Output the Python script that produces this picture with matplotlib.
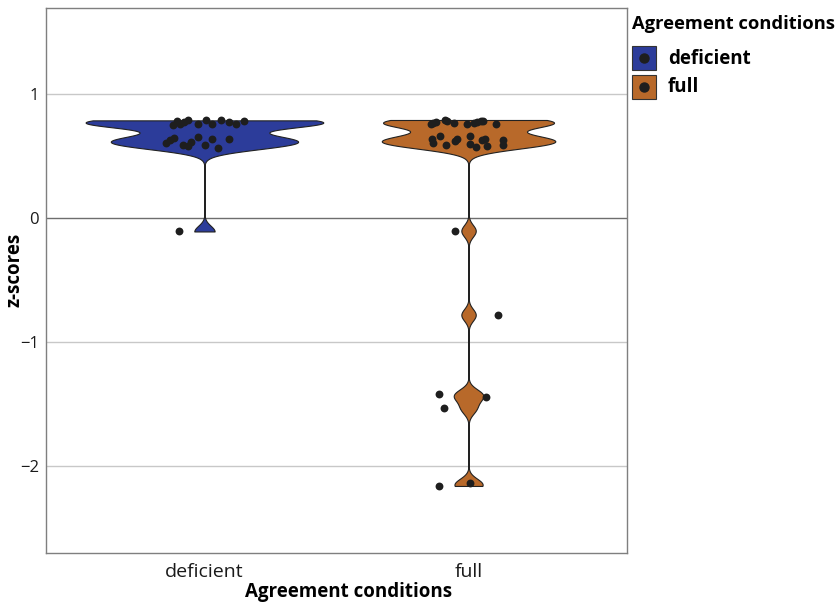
import numpy as np
import matplotlib
matplotlib.use("Agg")
import matplotlib.pyplot as plt
from matplotlib.patches import Rectangle
from matplotlib.lines import Line2D

plt.rcParams['font.family'] = ['Open Sans', 'DejaVu Sans']

# data: z-scores per condition, and horizontal jitter of each dot
conditions = ["deficient", "full"]
colors = ["#2C3C9A", "#B8692A"]

deficient_z = [0.750, 0.777, 0.758, 0.769, 0.785, 0.756, 0.785, 0.758, 0.785, 0.772, 0.756, 0.777,
               0.602, 0.629, 0.643, 0.589, 0.575, 0.607, 0.651, 0.583, 0.637, 0.562, 0.635,
               -0.110]
deficient_dx = [-0.120, -0.105, -0.093, -0.078, -0.064, -0.026, 0.006, 0.027, 0.061, 0.094, 0.119, 0.150,
                -0.146, -0.131, -0.116, -0.080, -0.061, -0.051, -0.023, 0.002, 0.027, 0.052, 0.094,
                -0.095]

full_z = [0.752, 0.766, 0.774, 0.788, 0.780, 0.760, 0.752, 0.766, 0.774, 0.782, 0.782, 0.752,
          0.635, 0.602, 0.661, 0.589, 0.615, 0.635, 0.661, 0.594, 0.567, 0.623, 0.635, 0.581, 0.623, 0.589,
          -0.105, -0.782, -1.420, -1.535, -1.440, -2.160, -2.140]
full_dx = [-0.142, -0.134, -0.123, -0.089, -0.081, -0.054, -0.007, 0.020, 0.033, 0.046, 0.056, 0.104,
           -0.140, -0.134, -0.108, -0.086, -0.052, -0.043, 0.005, 0.005, 0.028, 0.050, 0.062, 0.069, 0.131, 0.129,
           -0.052, 0.112, -0.111, -0.092, 0.066, -0.111, 0.005]

groups = [deficient_z, full_z]
jitters = [deficient_dx, full_dx]


def bw_nrd0(x):
    x = np.asarray(x)
    hi = np.std(x, ddof=1)
    q75, q25 = np.percentile(x, [75, 25])
    lo = min(hi, (q75 - q25) / 1.34)
    return 0.9 * lo * len(x) ** -0.2


def kde(x, adjust=0.8, n=512):
    x = np.asarray(x)
    h = bw_nrd0(x) * adjust
    grid = np.linspace(x.min(), x.max(), n)
    d = np.exp(-0.5 * ((grid[:, None] - x[None, :]) / h) ** 2).sum(axis=1)
    d = d / (len(x) * h * np.sqrt(2 * np.pi))
    return grid, d


W, H = 839, 604
fig = plt.figure(figsize=(W / 100, H / 100), dpi=100)
ax = fig.add_axes([46 / W, 51 / H, 581 / W, 545 / H])

dens = [kde(g) for g in groups]
dmax = max(d.max() for _, d in dens)

for i, ((grid, d), col) in enumerate(zip(dens, colors)):
    pos = i + 1
    w = 0.45 * d / dmax
    ax.fill_betweenx(grid, pos - w, pos + w, facecolor=col, edgecolor="#222222",
                     linewidth=0.8, zorder=3)

for i, (g, dx) in enumerate(zip(groups, jitters)):
    ax.scatter(np.array(dx) + i + 1, g, s=32, color="#1e1e1e", zorder=4, linewidths=0)

ax.axhline(0, color="#6e6e6e", linewidth=1, zorder=1)
for yv in [-2, -1, 1]:
    ax.axhline(yv, color="#c8c8c8", linewidth=1, zorder=0)

ax.set_xlim(0.4, 2.6)
ax.set_ylim(-2.70, 1.69)
ax.set_yticks([-2, -1, 0, 1])
ax.set_yticklabels(["\u22122", "\u22121", "0", "1"])
ax.set_xticks([1, 2])
ax.set_xticklabels(conditions)
ax.tick_params(axis="x", length=0, labelsize=14, colors="#1a1a1a", pad=7)
ax.tick_params(axis="y", length=0, labelsize=12, colors="#1a1a1a", pad=5)
for s in ax.spines.values():
    s.set_color("#7f7f7f")
    s.set_linewidth(1)

ax.set_xlabel("Agreement conditions", fontsize=13.5, fontweight="bold")
ax.xaxis.set_label_coords((349 - 46) / 581, -0.054)
ax.set_ylabel("z-scores", fontsize=13.5, fontweight="bold")
ax.yaxis.set_label_coords((25 - 46) / 581, (553 - 270) / 545)

# legend drawn by hand so the spacing follows the reference
fig.text(632 / W, 1 - 29 / H, "Agreement conditions", fontsize=13.2, fontweight="bold",
         ha="left", va="baseline")
for k, (lab, col) in enumerate(zip(conditions, colors)):
    top = 46 + k * 29
    fig.patches.append(Rectangle((632 / W, 1 - (top + 24) / H), 24 / W, 24 / H,
                                 transform=fig.transFigure, facecolor=col,
                                 edgecolor="#333333", linewidth=0.8))
    fig.lines.append(Line2D([644 / W], [1 - (top + 12) / H], transform=fig.transFigure,
                            marker="o", markersize=6.5, color="#1e1e1e", linestyle="none"))
    fig.text(668 / W, 1 - (top + 17.5) / H, lab, fontsize=13.5, fontweight="bold",
             ha="left", va="baseline")

fig.savefig("out.png", dpi=100)
